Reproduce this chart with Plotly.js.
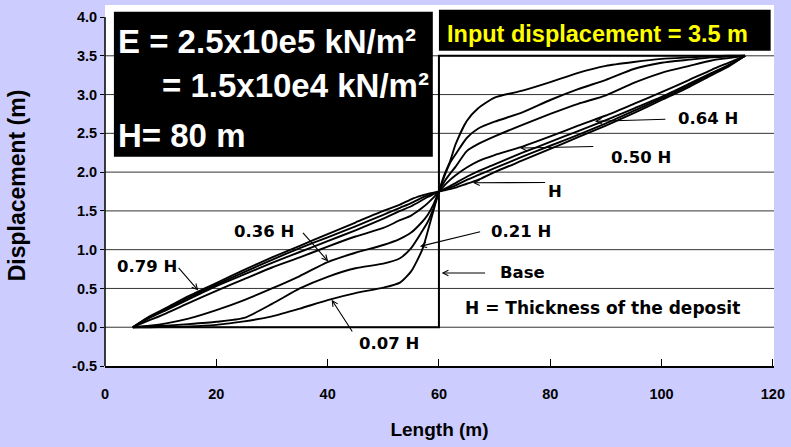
<!DOCTYPE html>
<html>
<head>
<meta charset="utf-8">
<script src="https://cdn.plot.ly/plotly-3.0.1.min.js"></script>
<style>html,body{margin:0;padding:0;background:#CCCCFF;}#chart{width:791px;height:447px;}</style>
</head>
<body>
<div id="chart"></div>
<script>
// ---- data ----
const lengthM = [5, 8, 11, 15, 20, 25, 30, 35, 40, 45, 50, 53, 55, 57, 58, 59, 60,
                 61, 62, 63, 65, 67, 70, 75, 80, 85, 90, 95, 100, 105, 109, 112, 115];

const disp007H = [0, 0, 0.005, 0.01, 0.03, 0.075, 0.14, 0.24, 0.35, 0.44, 0.51, 0.575, 0.72, 1.0, 1.24, 1.5, 1.75,
                  1.97, 2.14, 2.36, 2.66, 2.82, 2.96, 3.05, 3.16, 3.28, 3.37, 3.42, 3.46, 3.48, 3.495, 3.5, 3.5];
const disp021H = [0, 0.01, 0.02, 0.04, 0.07, 0.12, 0.30, 0.50, 0.65, 0.76, 0.82, 0.89, 1.02, 1.24, 1.36, 1.53, 1.75,
                  1.95, 2.12, 2.23, 2.44, 2.56, 2.65, 2.77, 2.93, 3.07, 3.19, 3.33, 3.41, 3.45, 3.48, 3.49, 3.5];
const disp036H = [0, 0.02, 0.05, 0.11, 0.22, 0.35, 0.50, 0.66, 0.84, 0.96, 1.06, 1.14, 1.22, 1.36, 1.45, 1.58, 1.75,
                  1.88, 1.98, 2.07, 2.27, 2.36, 2.46, 2.61, 2.75, 2.88, 2.99, 3.15, 3.28, 3.37, 3.44, 3.47, 3.5];
const disp050H = [0, 0.09, 0.18, 0.31, 0.47, 0.62, 0.77, 0.90, 1.04, 1.17, 1.28, 1.38, 1.44, 1.54, 1.60, 1.67, 1.75,
                  1.83, 1.90, 1.96, 2.06, 2.14, 2.22, 2.33, 2.46, 2.60, 2.73, 2.88, 3.03, 3.19, 3.32, 3.41, 3.5];
const disp064H = [0, 0.12, 0.22, 0.36, 0.53, 0.68, 0.83, 0.97, 1.11, 1.25, 1.40, 1.50, 1.56, 1.64, 1.68, 1.715, 1.75,
                  1.785, 1.82, 1.86, 1.94, 2.01, 2.10, 2.25, 2.39, 2.53, 2.67, 2.82, 2.97, 3.14, 3.28, 3.38, 3.5];
const disp079H = [0, 0.13, 0.23, 0.38, 0.55, 0.71, 0.87, 1.02, 1.16, 1.30, 1.45, 1.54, 1.60, 1.67, 1.70, 1.725, 1.75,
                  1.775, 1.80, 1.83, 1.90, 1.96, 2.05, 2.20, 2.34, 2.48, 2.63, 2.79, 2.95, 3.12, 3.27, 3.37, 3.5];
const disp100H = [0, 0.14, 0.25, 0.40, 0.57, 0.74, 0.90, 1.05, 1.20, 1.35, 1.50, 1.58, 1.65, 1.70, 1.72, 1.735, 1.75,
                  1.765, 1.78, 1.80, 1.85, 1.90, 2.00, 2.15, 2.30, 2.45, 2.60, 2.76, 2.93, 3.10, 3.25, 3.36, 3.5];

// input (base) displacement: step
const baseX = [5, 60, 60, 115];
const baseY = [0, 0, 3.5, 3.5];

const xTicks = [0, 20, 40, 60, 80, 100, 120];
const yTicks = [-0.5, 0, 0.5, 1, 1.5, 2, 2.5, 3, 3.5, 4];
const yTickText = ['-0.5', '0.0', '0.5', '1.0', '1.5', '2.0', '2.5', '3.0', '3.5', '4.0'];
const gridVals = [0, 0.5, 1, 1.5, 2, 2.5, 3, 3.5];

const curveSeries = [disp007H, disp021H, disp036H, disp050H, disp064H, disp079H, disp100H];
const curveNames = ['0.07 H', '0.21 H', '0.36 H', '0.50 H', '0.64 H', '0.79 H', 'H'];

// ---- traces ----
const traces = curveSeries.map((ys, i) => ({
  x: lengthM, y: ys, type: 'scatter', mode: 'lines', name: curveNames[i],
  line: {color: '#000', width: 1.9, shape: 'spline', smoothing: 0.6},
  hoverinfo: 'skip'
}));
traces.push({x: baseX, y: baseY, type: 'scatter', mode: 'lines', name: 'Base',
  line: {color: '#000', width: 2}, hoverinfo: 'skip'});

// ---- layout ----
const labelFont = {family: 'DejaVu Sans, Arial, sans-serif', size: 16.5, color: '#000', weight: 'bold'};
const boxFont = {family: 'Liberation Sans, Arial, sans-serif', size: 33, color: '#fff', weight: 'bold'};

const shapes = gridVals.map(v => ({type: 'line', xref: 'paper', x0: 0, x1: 1, yref: 'y', y0: v, y1: v,
  line: {color: '#333', width: 1}, layer: 'below'}));
shapes.push({type: 'line', xref: 'paper', x0: 0, x1: 0, yref: 'y', y0: -0.5, y1: 4.0,
  line: {color: '#000', width: 1.5}});
shapes.push({type: 'rect', xref: 'x', yref: 'y', x0: 1.6, x1: 58.9, y0: 2.198, y1: 4.068,
  fillcolor: '#000', line: {width: 0}, layer: 'above'});
shapes.push({type: 'rect', xref: 'x', yref: 'y', x0: 60.0, x1: 119.6, y0: 3.565, y1: 4.094,
  fillcolor: '#000', line: {width: 0}, layer: 'above'});

function arrow(tx, ty, hx, hy) {
  return {x: hx, y: hy, ax: tx, ay: ty, xref: 'x', yref: 'y', axref: 'x', ayref: 'y',
    text: '', showarrow: true, arrowhead: 5, arrowsize: 1, arrowwidth: 1.1, arrowcolor: '#000',
    standoff: 0, startstandoff: 0};
}
function label(txt, x, y, font) {
  return {x: x, y: y, xref: 'x', yref: 'y', text: txt, showarrow: false,
    xanchor: 'center', yanchor: 'middle', font: font || labelFont};
}

const annotations = [
  arrow(100.95, 2.682, 88.02, 2.656), label('0.64 H', 108.4, 2.688),
  arrow(88.0, 2.331, 74.55, 2.311), label('0.50 H', 96.25, 2.192),
  arrow(79.34, 1.867, 66.1, 1.863), label('H', 80.8, 1.753),
  arrow(67.67, 1.235, 56.58, 1.042), label('0.21 H', 74.7, 1.235),
  arrow(68.56, 0.699, 60.48, 0.699), label('Base', 75.1, 0.703),
  label('H = Thickness of the deposit', 89.3, 0.251,
        {family: 'DejaVu Sans, Arial, sans-serif', size: 17, color: '#000', weight: 'bold'}),
  arrow(35.33, 1.235, 40.11, 0.848), label('0.36 H', 28.56, 1.235),
  arrow(12.99, 0.784, 16.76, 0.474), label('0.79 H', 7.63, 0.784),
  arrow(44.6, -0.075, 40.72, 0.355), label('0.07 H', 51.0, -0.21),
  {x: 2.0, y: 3.681, xref: 'x', yref: 'y', text: 'E = 2.5x10e5 kN/m²', showarrow: false,
    xanchor: 'left', yanchor: 'middle', font: boxFont},
  {x: 9.9, y: 3.114, xref: 'x', yref: 'y', text: '= 1.5x10e4 kN/m²', showarrow: false,
    xanchor: 'left', yanchor: 'middle', font: boxFont},
  {x: 2.0, y: 2.469, xref: 'x', yref: 'y', text: 'H= 80 m', showarrow: false,
    xanchor: 'left', yanchor: 'middle', font: boxFont},
  {x: 88.4, y: 3.784, xref: 'x', yref: 'y', text: 'Input displacement = 3.5 m', showarrow: false,
    xanchor: 'center', yanchor: 'middle',
    font: {family: 'Liberation Sans, Arial, sans-serif', size: 23.5, color: '#FFFF00', weight: 'bold'}}
];

const tickFont = {family: 'Liberation Sans, Arial, sans-serif', size: 14.5, color: '#000', weight: 'bold'};

const layout = {
  width: 791, height: 447,
  margin: {l: 105, r: 17, t: 5, b: 81, pad: 0},
  paper_bgcolor: '#CCCCFF', plot_bgcolor: '#FFFFFF',
  showlegend: false,
  xaxis: {
    range: [0, 120.2], tickmode: 'array', tickvals: xTicks,
    ticks: 'inside', ticklen: 7, tickwidth: 1, tickcolor: '#000',
    showline: true, linecolor: '#000', linewidth: 1.5,
    showgrid: false, zeroline: false, tickfont: tickFont, ticklabelstandoff: 14,
    title: {text: 'Length (m)', font: {family: 'Liberation Sans, Arial, sans-serif', size: 19, color: '#000', weight: 'bold'}, standoff: 22}
  },
  yaxis: {
    range: [-0.5, 4.155], tickmode: 'array', tickvals: yTicks, ticktext: yTickText,
    ticks: 'outside', ticklen: 4, tickwidth: 1, tickcolor: '#000',
    showline: false, showgrid: false, zeroline: false, tickfont: tickFont,
    title: {text: 'Displacement (m)', font: {family: 'Liberation Sans, Arial, sans-serif', size: 23, color: '#000', weight: 'bold'}, standoff: 40}
  },
  shapes: shapes,
  annotations: annotations
};

Plotly.newPlot('chart', traces, layout, {displayModeBar: false, staticPlot: true});
</script>
</body>
</html>
